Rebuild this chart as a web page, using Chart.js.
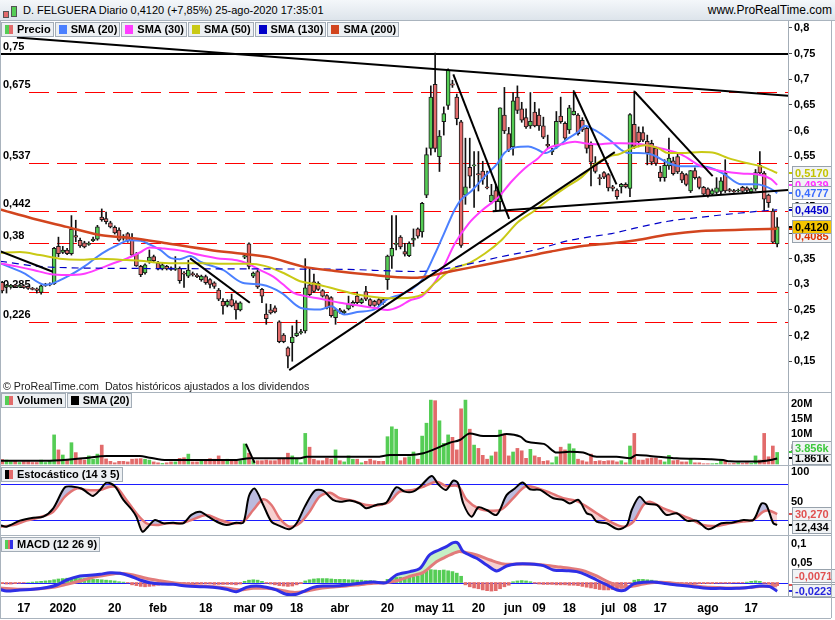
<!DOCTYPE html>
<html lang="es">
<head>
<meta charset="UTF-8">
<title>D. FELGUERA Diario</title>
<script src="https://cdn.jsdelivr.net/npm/chart.js@4.4.0/dist/chart.umd.min.js"></script>
<style>
  body { margin: 0; background: #fff; font-family: "Liberation Sans", Arial, sans-serif; }
  #wrap { position: relative; width: 835px; height: 620px; overflow: hidden; }
  canvas { position: absolute; left: 0; }
  #hdr { position: absolute; left: 0; top: 0; width: 835px; height: 21px; background: linear-gradient(#f4f7fa, #dde4eb); border-bottom: 1px solid #aab4be; box-sizing: border-box; line-height: 20px; }
  #hdr .t { position: absolute; left: 23px; top: 0; font-size: 11px; }
  #hdr .r { position: absolute; right: 3px; top: 0; font-size: 12px; }
  .ic { position: absolute; border: 1px solid #555; box-sizing: border-box; }
  .legend { position: absolute; left: 1px; display: flex; gap: 1px; z-index: 2; }
  .legend div { height: 13px; border: 1px solid #a3adb7; background: #edf0f3; font-weight: bold; font-size: 11px; line-height: 13px; padding: 0 2px 0 3px; white-space: nowrap; }
  .legend i { display: inline-block; width: 8px; height: 9px; vertical-align: -1px; margin-right: 4px; }
  .sep { position: absolute; left: 0; width: 831px; height: 1px; background: #a9b3bd; z-index: 2; }
  .vline { position: absolute; top: 20px; width: 1px; height: 598px; background: #a9b3bd; z-index: 2; }
  #copy { position: absolute; left: 3px; top: 380px; font-size: 10.7px; color: #222; z-index: 2; }
</style>
</head>
<body>
<div id="wrap">
  <div id="hdr">
    <div class="ic" style="left:3px;top:11px;width:6px;height:7px;background:#e26b6b"></div>
    <div class="ic" style="left:11px;top:6px;width:6px;height:11px;background:#55cd55"></div>
    <span class="t">D. FELGUERA Diario 0,4120 (+7,85%) 25-ago-2020 17:35:01</span>
    <span class="r">www.ProRealTime.com</span>
  </div>

  <canvas id="cMain" width="835" height="371" style="top:21px"></canvas>
  <canvas id="cVol" width="835" height="72" style="top:393px"></canvas>
  <canvas id="cSto" width="835" height="69" style="top:466px"></canvas>
  <canvas id="cMacd" width="835" height="84" style="top:536px"></canvas>

  <div class="legend" style="top:22px">
    <div><i style="background:linear-gradient(90deg,#55cd55 50%,#e26b6b 50%)"></i>Precio</div>
    <div><i style="background:#4b80ff"></i>SMA (20)</div>
    <div><i style="background:#ff3dff"></i>SMA (30)</div>
    <div><i style="background:#c9c915"></i>SMA (50)</div>
    <div><i style="background:#0000c8"></i>SMA (130)</div>
    <div><i style="background:#d2451e"></i>SMA (200)</div>
  </div>
  <div class="legend" style="top:393px">
    <div><i style="background:linear-gradient(90deg,#55cd55 50%,#e26b6b 50%)"></i>Volumen</div>
    <div><i style="background:#000"></i>SMA (20)</div>
  </div>
  <div class="legend" style="top:467px">
    <div><i style="background:linear-gradient(90deg,#000 50%,#e26b6b 50%)"></i>Estocástico (14 3 5)</div>
  </div>
  <div class="legend" style="top:537px">
    <div><i style="background:linear-gradient(90deg,#55cd55 33%,#e26b6b 33%,#e26b6b 66%,#2f2fe6 66%)"></i>MACD (12 26 9)</div>
  </div>

  <div id="copy">© ProRealTime.com&nbsp; Datos históricos ajustados a los dividendos</div>
  <div class="sep" style="top:392px"></div>
  <div class="sep" style="top:465px"></div>
  <div class="sep" style="top:535px"></div>
  <div class="sep" style="top:596px"></div>
  <div class="sep" style="top:618px"></div>
  <div class="vline" style="left:0"></div>
  <div class="vline" style="left:831px"></div>
</div>

<script>
// daily candles, 10 dic 2019 .. 25 ago 2020 (index = trading day)
const opens = [
  .304,.296,.295,.298,.296,.297,.296,.292,.291,.284,
  .298,.299,.301,.374,.362,.367,.360,.395,.386,.381,
  .378,.385,.388,.431,.428,.420,.411,.406,.394,.399,
  .386,.359,.335,.322,.345,.354,.341,.330,.335,.332,
  .330,.331,.322,.316,.321,.318,.309,.315,.309,.303,
  .289,.267,.259,.270,.264,.250,.353,.379,.316,.325,
  .290,.242,.250,.254,.227,.201,.176,.186,.200,.205,
  .209,.299,.305,.302,.288,.278,.274,.235,.250,.244,
  .252,.258,.277,.264,.286,.270,.267,.270,.270,.309,
  .355,.378,.392,.364,.356,.386,.408,.402,.474,.565,
  .690,.549,.617,.649,.690,.665,.617,.474,.528,.531,
  .515,.521,.490,.461,.483,.461,.630,.594,.568,.665,
  .642,.625,.609,.636,.630,.609,.573,.558,.568,.628,
  .614,.601,.631,.630,.620,.604,.572,.536,.508,.518,
  .514,.490,.484,.490,.495,.487,.612,.597,.596,.579,
  .575,.565,.519,.508,.531,.541,.549,.517,.514,.482,
  .522,.508,.489,.486,.476,.479,.481,.517,.484,.482,
  .483,.489,.488,.480,.486,.532,.517,.474,.443,.379
];
const highs = [
  .306,.300,.300,.300,.299,.299,.297,.294,.293,.299,
  .302,.303,.372,.392,.374,.370,.434,.425,.390,.384,
  .383,.392,.415,.447,.441,.423,.414,.410,.397,.401,
  .399,.362,.337,.340,.367,.357,.345,.341,.337,.334,
  .354,.334,.325,.347,.324,.321,.318,.318,.311,.305,
  .292,.272,.270,.281,.268,.266,.358,.381,.324,.328,
  .292,.262,.261,.258,.229,.204,.178,.219,.230,.212,
  .350,.331,.320,.305,.290,.280,.276,.252,.253,.250,
  .277,.268,.285,.273,.296,.272,.269,.272,.272,.357,
  .434,.434,.395,.380,.383,.408,.410,.460,.566,.687,
  .751,.600,.646,.720,.698,.671,.620,.585,.585,.559,
  .559,.540,.521,.495,.495,.644,.684,.606,.674,.687,
  .655,.642,.674,.655,.642,.626,.591,.565,.637,.665,
  .617,.649,.678,.633,.625,.607,.578,.549,.514,.520,
  .516,.493,.486,.497,.498,.633,.677,.607,.607,.591,
  .581,.568,.530,.543,.585,.548,.555,.520,.516,.522,
  .527,.510,.491,.488,.486,.508,.508,.543,.487,.485,
  .486,.491,.490,.488,.524,.559,.520,.476,.447,.430
];
const lows = [
  .283,.283,.293,.294,.294,.292,.290,.289,.283,.281,
  .296,.297,.300,.354,.360,.358,.357,.383,.372,.371,
  .376,.383,.386,.423,.418,.410,.398,.384,.386,.382,
  .354,.335,.315,.320,.341,.344,.328,.328,.328,.327,
  .327,.302,.294,.313,.316,.313,.306,.300,.293,.292,
  .268,.242,.256,.256,.232,.248,.350,.330,.313,.292,
  .264,.222,.242,.244,.186,.186,.137,.150,.198,.203,
  .205,.278,.284,.288,.275,.252,.236,.222,.243,.242,
  .250,.256,.262,.262,.268,.256,.257,.258,.261,.290,
  .331,.367,.369,.355,.354,.374,.390,.392,.469,.552,
  .558,.520,.591,.641,.684,.611,.372,.456,.488,.450,
  .482,.495,.486,.457,.444,.444,.594,.559,.552,.633,
  .616,.604,.604,.607,.600,.584,.565,.553,.565,.614,
  .582,.594,.630,.591,.598,.556,.492,.517,.494,.506,
  .482,.482,.466,.478,.488,.471,.565,.568,.578,.533,
  .533,.532,.501,.501,.524,.513,.516,.498,.492,.479,
  .505,.486,.473,.470,.474,.476,.476,.479,.480,.479,
  .480,.479,.480,.478,.483,.514,.444,.450,.380,.373
];
const closes = [
  .287,.297,.298,.296,.297,.294,.292,.290,.288,.297,
  .300,.301,.370,.360,.367,.360,.407,.392,.375,.373,
  .380,.388,.412,.426,.422,.412,.400,.386,.390,.385,
  .357,.336,.319,.338,.353,.346,.330,.338,.330,.329,
  .331,.307,.320,.328,.319,.315,.316,.303,.300,.296,
  .271,.258,.267,.258,.250,.264,.356,.335,.322,.295,
  .277,.233,.244,.246,.188,.188,.160,.197,.205,.208,
  .293,.280,.286,.290,.277,.254,.239,.250,.246,.248,
  .261,.265,.264,.270,.271,.259,.259,.261,.264,.355,
  .370,.380,.373,.359,.380,.390,.394,.458,.553,.665,
  .565,.589,.633,.718,.689,.623,.376,.490,.511,.533,
  .514,.505,.488,.474,.461,.644,.599,.562,.658,.639,
  .620,.607,.618,.609,.609,.587,.570,.562,.618,.617,
  .585,.644,.638,.594,.601,.565,.538,.520,.506,.509,
  .488,.487,.471,.495,.490,.631,.569,.578,.581,.556,
  .538,.536,.508,.532,.546,.516,.519,.503,.495,.522,
  .508,.489,.476,.473,.483,.488,.502,.482,.483,.481,
  .483,.481,.483,.486,.518,.517,.466,.459,.382,.412
];
// volume, millions of shares
const volumes = [
  1.5,1.3,0.8,1.1,0.5,0.8,0.8,0.5,0.5,1.3,
  0.5,1.1,9.7,4.7,3.0,1.3,7.1,3.8,1.9,1.3,
  2.7,1.6,3.3,6.3,1.7,0.9,0.4,0.9,0.9,0.7,
  1.6,1.7,1.8,1.6,1.3,0.7,0.4,0.2,0.4,0.7,
  0.7,1.9,2.1,3.3,0.7,0.7,0.9,1.1,1.8,1.6,
  2.7,1.3,1.6,0.9,0.9,1.1,6.7,3.6,1.1,1.1,
  1.1,1.3,1.1,1.1,1.9,1.9,3.6,2.7,1.6,0.4,
  10.2,5.6,1.6,1.1,1.1,1.9,1.6,4.7,1.1,0.7,
  2.7,1.6,1.6,0.4,0.9,1.6,1.1,0.9,0.9,9.1,
  12.4,11.6,1.1,2.1,2.4,4.0,1.6,9.3,13.6,21.3,
  21.1,14.4,6.9,9.7,8.9,4.7,18.4,21.3,11.6,6.3,
  5.2,2.9,1.6,2.7,4.0,11.3,10.0,2.7,4.0,5.2,
  4.4,1.9,4.9,2.7,2.2,0.9,1.1,0.4,2.4,5.6,
  4.7,6.7,5.1,1.6,1.1,0.7,3.3,0.9,1.1,0.9,
  1.1,1.1,0.7,1.1,0.4,6.0,10.2,1.3,1.3,1.8,
  2.0,2.0,1.3,0.7,2.9,1.1,1.3,0.7,0.7,1.6,
  0.4,0.4,0.1,0.1,0.1,0.2,1.3,1.1,0.1,0.2,
  0.4,0.2,0.4,0.2,2.7,1.3,10.2,2.4,6.0,3.856
];
const macdHist = [
  -0.003,-0.004,-0.004,-0.003,-0.002,-0.001,0,0.001,0.002,0.003,
  0.004,0.005,0.007,0.009,0.010,0.011,0.011,0.011,0.010,0.010,
  0.009,0.008,0.008,0.007,0.006,0.005,0.004,0.002,0.001,-0.001,
  -0.006,-0.008,-0.010,-0.011,-0.010,-0.009,-0.007,-0.006,-0.005,-0.005,
  -0.005,-0.005,-0.004,-0.004,-0.004,-0.004,-0.004,-0.004,-0.004,-0.005,
  -0.005,-0.005,-0.005,-0.005,-0.006,-0.004,0.003,0.006,0.007,0.006,
  0.003,-0.002,-0.004,-0.006,-0.008,-0.009,-0.010,-0.009,-0.006,-0.003,
  0.004,0.007,0.009,0.010,0.010,0.010,0.009,0.008,0.008,0.008,
  0.007,0.007,0.006,0.006,0.005,0.005,0.004,0.003,0.003,0.008,
  0.011,0.013,0.013,0.013,0.014,0.015,0.017,0.024,0.030,0.033,
  0.032,0.031,0.032,0.030,0.028,0.024,0.016,-0.006,-0.011,-0.014,
  -0.016,-0.019,-0.021,-0.022,-0.021,-0.016,-0.011,-0.007,0.002,0.004,
  0.005,0.004,0.002,-0.002,-0.004,-0.005,-0.005,-0.005,-0.006,-0.006,
  -0.006,-0.007,-0.007,-0.008,-0.010,-0.012,-0.014,-0.016,-0.018,-0.019,
  -0.019,-0.018,-0.017,-0.015,-0.010,-0.002,0.006,0.008,0.008,0.007,
  0.006,0.004,0.002,-0.002,-0.003,-0.003,-0.004,-0.004,-0.004,-0.004,
  -0.004,-0.003,-0.003,-0.003,-0.003,-0.002,-0.002,-0.002,-0.002,-0.001,
  -0.001,-0.001,0.001,0.003,0.004,0.003,-0.002,-0.004,-0.006,-0.008
];

// indicator lines: [day index, value]
const sma20 = [[-0.5,.341],[5,.322],[10,.299],[15,.315],[19,.335],[23,.360],[26.5,.376],[29.5,.386],[32,.385],[34,.378],[36.5,.367],[39,.351],[41,.349],[43.4,.355],[46,.343],[51,.328],[55.5,.303],[60,.299],[64.6,.283],[69,.254],[73.5,.251],[76,.257],[79,.241],[82,.246],[86,.251],[89,.271],[92,.280],[94.5,.290],[97,.309],[100,.360],[102,.398],[104.6,.447],[106,.465],[108.5,.483],[111.5,.511],[114.5,.537],[116,.556],[118.5,.567],[121.5,.569],[123.8,.562],[125.4,.556],[127.7,.565],[130.8,.585],[133,.597],[134.5,.609],[136.8,.601],[139.2,.588],[140.8,.578],[143,.562],[144.6,.556],[147,.556],[150,.553],[153.8,.537],[156.9,.530],[161.5,.530],[164.6,.524],[166.9,.514],[170.7,.495],[173.8,.495],[176,.492],[178.4,.482],[179,.4777]];
const sma30 = [[-0.5,.341],[3.3,.335],[7.2,.328],[11,.320],[14.9,.318],[18.7,.320],[22.6,.331],[25.7,.341],[28.7,.350],[31.8,.362],[34.1,.372],[37.2,.370],[41.8,.365],[45.7,.357],[49.5,.351],[54.2,.347],[56.5,.341],[59.5,.328],[62.6,.315],[65,.299],[67.2,.284],[70,.277],[73.5,.272],[78,.264],[82,.259],[86,.254],[89,.250],[92,.258],[94,.268],[97,.277],[100,.305],[102,.335],[104.6,.380],[107.7,.418],[110.8,.444],[114.5,.469],[117.7,.501],[120.8,.527],[123.8,.546],[126.1,.565],[129.2,.573],[132.3,.578],[134.5,.575],[137.6,.573],[140.8,.575],[143,.575],[147.6,.573],[152.2,.565],[156.9,.553],[161.5,.530],[166.1,.521],[170.7,.516],[174.6,.514],[177.6,.505],[179,.4939]];
const sma50 = [[-0.5,.361],[4.1,.363],[8.7,.357],[13.3,.350],[18,.348],[22.6,.350],[27.2,.348],[31.8,.346],[36.5,.342],[41,.341],[46,.341],[51,.340],[57,.340],[60.6,.336],[65,.322],[68.8,.306],[72.6,.300],[77.3,.290],[81.9,.280],[87.3,.274],[92,.273],[97,.280],[100,.303],[104,.330],[108,.342],[111.5,.360],[115.3,.386],[119.1,.421],[123,.444],[126.8,.469],[130.7,.492],[133.7,.508],[136.8,.533],[140.8,.551],[142.3,.553],[145.4,.565],[148.5,.571],[151.6,.565],[153.8,.556],[156.9,.556],[161.5,.558],[164.6,.556],[167.7,.546],[171.6,.537],[175.4,.530],[179,.517]];
const sma130 = [[-0.5,.345],[10,.334],[30,.331],[60,.330],[80,.329],[90,.326],[95,.325],[100,.327],[104,.333],[108,.340],[115.3,.354],[123,.367],[130.7,.385],[135.3,.392],[140.8,.399],[146.4,.410],[153.8,.423],[161.5,.431],[169.2,.438],[176.9,.444],[179,.445]];
const sma200 = [[-0.5,.446],[7.2,.428],[14.9,.412],[22.6,.396],[30.3,.390],[38,.380],[48,.367],[53.9,.361],[61.6,.353],[69.2,.335],[76.9,.326],[84.6,.319],[94.5,.313],[97,.314],[104,.326],[111.5,.338],[119.1,.351],[126.8,.364],[134.5,.375],[140.8,.380],[146.4,.386],[153.8,.397],[161.5,.404],[169.2,.406],[176.9,.408],[179,.4085]];
const volSma = [[-0.5,1.1],[11,1.1],[18.7,1.9],[24.1,2.7],[31.8,2.7],[34.1,2.1],[38,1.3],[53.4,1.3],[57.2,1.9],[68.8,1.9],[70.3,2.4],[86.5,2.4],[89.6,3.0],[94.2,3.0],[97.3,3.6],[100.3,5.2],[103.4,7.1],[105.7,8.0],[108,10.2],[111.1,9.3],[114.2,9.3],[116.5,10.0],[119.7,9.1],[121.3,7.4],[125.1,6.7],[128.1,3.8],[131.1,4.1],[134.2,3.8],[137.3,2.4],[141.9,2.4],[145,1.9],[146.5,3.0],[149.6,2.7],[155.8,1.9],[163.5,1.6],[166.5,1.3],[168.1,0.9],[174.3,0.8],[177.4,1.3],[179,1.861]];
const stochK = [[-0.5,12],[1,9.4],[4.1,19.4],[7.2,24.4],[9.5,26],[11.8,40],[14.5,75],[16.4,76],[18.3,73],[19.9,65],[21,60.6],[22.6,70.6],[24.1,82.8],[26,77],[28,54],[29.9,38],[31,26],[32.4,1],[33.7,9.4],[35.3,20.6],[37.2,15],[39.5,16],[41.8,15],[43.7,29],[45.7,34.4],[47.6,26],[49.5,17.8],[51.8,12.2],[54.1,16],[55.7,16],[57,60.6],[58.3,73],[60.3,45.6],[62.2,17.8],[64.1,10.6],[66.3,5],[68,15],[69.9,42.8],[72.2,69.4],[74.1,69.4],[76.4,54],[78,51],[80.3,52.8],[82.6,48],[84.1,40],[86.4,45.6],[88.7,49.4],[91,75],[93,67.8],[94.9,67.8],[96.5,76],[99.2,94],[100.7,80],[102.5,70.6],[104.2,86],[105.3,81.7],[106.5,48],[108.4,26],[110,41.7],[111.9,37.2],[114.2,29],[116.5,62],[118.4,73],[120.2,82.8],[121.9,71.7],[124.2,70.6],[127.3,56.7],[129.6,53.9],[131.1,48],[133.1,53.9],[135,31.7],[136.1,29],[137.3,17.8],[139.6,15],[142.3,5],[144.3,12.2],[145.4,37.2],[147.2,59.4],[148.8,48],[151.2,45.6],[153.4,29],[155.8,31.7],[158.1,19.4],[160.4,19.4],[163.1,5],[166.1,15],[168.5,16],[171.2,20.6],[173.5,20.6],[175.4,48],[176.5,45.6],[178.1,15],[179,12.434]];
const stochD = [[-0.5,9.4],[2.6,12],[5.6,19.4],[8.7,25],[11.8,34.4],[14.5,59.4],[17.2,73],[19.5,70.6],[22.6,70.6],[24.9,76],[26.4,75],[28.7,54],[31,31.7],[33.3,15],[35.6,12],[38,15],[41,15],[43.3,19.4],[47.2,29],[50.3,20.6],[53.3,15],[55.7,17.8],[58,37.2],[60.3,55],[62.2,45.6],[64.1,23],[66.4,9.4],[68.7,15],[71,34.4],[73.3,59.4],[75.7,66],[78,56.7],[81,52.8],[84.1,45.6],[87.2,45.6],[89.5,51],[91.8,67.8],[94.9,70.6],[97.3,76],[100.3,84.4],[102.6,77],[105.3,77],[107.3,54],[110,40],[112.7,36],[115.3,38],[118,56.7],[120.8,76],[123.4,74],[126.5,66],[129.6,56.7],[132.7,52],[135,42.8],[137.3,31.7],[140.4,17.8],[143.5,9.4],[145.8,17.8],[148.1,45.6],[149.6,51],[152.7,40],[155.8,31.7],[158.8,23],[161.9,12.2],[165,10.6],[168.1,15],[171.2,17.8],[173.5,20.6],[175.8,34.4],[177.3,36],[179,30.27]];
const macdLine = [[-0.5,-0.0175],[1,-0.0218],[4.1,-0.019],[7.2,-0.0175],[10.3,-0.013],[12.6,-0.0064],[14.9,0.0064],[18,0.0167],[20.3,0.0184],[22.6,0.021],[24.9,0.025],[27.2,0.0235],[29.5,0.0167],[31.8,0.0064],[34.1,-0.0004],[37.2,-0.0038],[39.5,-0.0047],[42.6,-0.009],[45.7,-0.0107],[48.7,-0.0124],[51.8,-0.0175],[54.1,-0.0235],[56.4,-0.0124],[58.7,-0.009],[61,-0.0124],[63.3,-0.019],[65.6,-0.030],[68,-0.030],[69.5,-0.0235],[71.8,-0.0124],[74.1,-0.009],[76.4,-0.009],[79.5,-0.0064],[82.6,-0.002],[85.7,0.0013],[88.7,-0.0004],[91,0.0192],[94.2,0.0278],[96.5,0.0363],[98.7,0.0705],[100.9,0.0833],[102.6,0.0919],[104.2,0.1021],[105.3,0.1004],[106.5,0.079],[109.6,0.062],[111.9,0.0449],[114.2,0.0295],[116.5,0.0423],[118.8,0.0474],[121.9,0.0474],[125,0.0432],[127.3,0.032],[130.4,0.0303],[132.7,0.0278],[135,0.0192],[137.3,0.0064],[139.7,-0.0064],[142,-0.0192],[143.9,-0.0192],[145.8,-0.0038],[148.1,0.0004],[150.4,0.0013],[152.7,-0.002],[155.8,-0.0064],[159.6,-0.0107],[162.7,-0.015],[165.8,-0.015],[169.6,-0.015],[172.7,-0.0124],[175,-0.009],[177.3,-0.0107],[179,-0.0223]];
const macdSignal = [[-0.5,-0.014],[4.1,-0.0175],[8.7,-0.016],[11.8,-0.0124],[14.9,-0.0047],[18,0.0038],[21,0.0132],[24.1,0.0192],[27.2,0.0235],[30.3,0.0192],[33.3,0.0107],[36.4,0.0047],[39.5,-0.0004],[42.6,-0.0047],[45.7,-0.009],[48.7,-0.0107],[51.8,-0.014],[54.9,-0.019],[58,-0.015],[61,-0.015],[64.1,-0.019],[67.2,-0.0252],[69.5,-0.0235],[72.6,-0.0167],[75.7,-0.0124],[79.5,-0.009],[82.6,-0.0055],[85.7,-0.002],[88.7,-0.0004],[91.8,0.0064],[94.2,0.016],[97.3,0.026],[100.3,0.0534],[102.6,0.0662],[105.3,0.079],[107.3,0.0765],[109.6,0.0705],[112.7,0.0577],[115.8,0.0474],[118.8,0.0474],[121.9,0.0474],[125,0.0449],[128.1,0.0406],[131.1,0.0363],[134.2,0.0303],[137.3,0.0167],[140.4,-0.0004],[143.5,-0.0107],[145.8,-0.009],[148.1,-0.0038],[151.2,0.0004],[154.3,-0.0004],[157.3,-0.0047],[160.4,-0.009],[163.4,-0.0124],[167.3,-0.014],[171.2,-0.014],[174.3,-0.0107],[177.3,-0.009],[179,-0.0071]];

// hand-drawn lines on the chart: [[day, price], [day, price]]
const trendLines = [
  [[3.4,.7814],[181.5,.6679]],
  [[-0.5,.3648],[11.7,.3244]],
  [[43.4,.3506],[57.2,.2641]],
  [[66.3,.1327],[141.5,.5577]],
  [[113.3,.4423],[181.5,.484]],
  [[104.2,.7096],[117.1,.4275]],
  [[132.1,.6756],[141.9,.4949]],
  [[146.1,.6756],[164.1,.511]]
];
const volTrend = [[56.3,6.7],[58.3,0.4]];
const topLevel = 0.75;
const levels = [0.675, 0.537, 0.442, 0.38, 0.285, 0.226];

const priceTicks = [0.15,0.2,0.25,0.3,0.35,0.4,0.45,0.5,0.55,0.6,0.65,0.7,0.75,0.8];
const volTicks = [5,10,15,20];
const stochTicks = [50,100];
const macdTicks = [0.05,0.1];
const xTickIdx = [5,14,26,36,47,56,61,68,78,89,98,103,110,118,124,131,140,145,152,163,173];
const xTickText = ['17','2020','20','feb','18','mar','09','18','abr','20','may','11','20','jun','09','18','jul','08','17','ago','17'];

// last values shown in the right-hand boxes
const priceBoxes = [
  { v: 0.5170, c: '#c4c400' },
  { v: 0.4939, c: '#ff33ff' },
  { v: 0.4777, c: '#3a6cff' },
  { v: 0.4450, c: '#0000cc' },
  { v: 0.4085, c: '#dd3300', dy: 7 },
  { v: 0.4120, c: '#000', bg: '#f5c400' }
];
const volBoxes = [
  { v: 1.861, text: '1.861k', c: '#000' },
  { v: 3.856, text: '3.856k', c: '#3cc83c', dy: -4 }
];
const stochBoxes = [
  { v: 30.270, text: '30,270', c: '#e05050' },
  { v: 12.434, text: '12,434', c: '#000', dy: 2 }
];
const macdBoxes = [
  { v: -0.0071, text: '-0,0071', c: '#e05050', dy: -9 },
  { v: -0.0223, text: '-0,0223', c: '#2424dd' }
];

const FONT = '"Liberation Sans", Arial, sans-serif';
const UP = '#55cd55', DOWN = '#e26b6b';
const X_MIN = -0.5, X_MAX = 181.5;

Chart.defaults.font.family = FONT;
Chart.defaults.animation = false;
Chart.defaults.events = [];
Chart.defaults.plugins.legend.display = false;
Chart.defaults.plugins.tooltip.enabled = false;
Chart.defaults.elements.point.radius = 0;

const pts = a => a.map(([x, y]) => ({ x, y }));
const comma = v => String(v).replace('.', ',');

function line(data, color, width, extra) {
  return Object.assign({ type: 'line', data: pts(data), borderColor: color, borderWidth: width,
    fill: false, cubicInterpolationMode: 'monotone' }, extra);
}

const xAxis = { type: 'linear', min: X_MIN, max: X_MAX, offset: false, display: false, bounds: 'data' };

function yAxis(min, max, ticks, fmt, tickLen) {
  return {
    position: 'right', min, max, bounds: 'data',
    afterBuildTicks: s => { s.ticks = ticks.map(value => ({ value })); },
    afterFit: s => { s.width = 47; s.paddingTop = 0; s.paddingBottom = 0; },
    grid: { display: tickLen > 0, drawOnChartArea: false, tickLength: tickLen, color: '#4a4a4a' },
    border: { display: true, color: '#a3adb7' },
    ticks: { padding: tickLen ? 2 : 3, color: '#000', font: { size: 11, weight: 'bold' }, callback: fmt }
  };
}

function baseOptions(y, bottom) {
  return { responsive: false, layout: { padding: { bottom: bottom || 0 } }, scales: { x: xAxis, y },
    plugins: { filler: { drawTime: 'beforeDatasetsDraw' } } };
}

function valueBoxes(items) {
  return { id: 'valueBoxes', afterDraw(chart) {
    const { ctx, chartArea: a, scales: { y } } = chart;
    ctx.save();
    ctx.font = 'bold 11px ' + FONT;
    ctx.textBaseline = 'middle';
    items.forEach(b => {
      const text = b.text || b.v.toFixed(4).replace('.', ',');
      const py = Math.round(y.getPixelForValue(b.v));
      const cy = py + (b.dy || 0);
      const w = Math.max(37, Math.ceil(ctx.measureText(text).width) + 6);
      ctx.fillStyle = b.c;
      ctx.fillRect(a.right + 1, py - 1, 3, 2);
      ctx.fillStyle = b.bg || '#f1f3f5';
      ctx.fillRect(a.right + 4, cy - 7, w, 14);
      ctx.strokeStyle = '#98a2ac';
      ctx.lineWidth = 1;
      ctx.strokeRect(a.right + 4.5, cy - 6.5, w - 1, 13);
      ctx.fillStyle = b.bg ? '#000' : b.c;
      ctx.fillText(text, a.right + 7, cy + 1);
    });
    ctx.restore();
  }};
}

function guideLines(values, color) {
  return { id: 'guides', beforeDatasetsDraw(chart) {
    const { ctx, chartArea: a, scales: { y } } = chart;
    ctx.save();
    ctx.strokeStyle = color;
    ctx.lineWidth = 1;
    values.forEach(v => {
      const py = Math.round(y.getPixelForValue(v)) + 0.5;
      ctx.beginPath(); ctx.moveTo(a.left, py); ctx.lineTo(a.right, py); ctx.stroke();
    });
    ctx.restore();
  }};
}

// date labels under the last panel, placed through the shared x scale
const dateLabels = { id: 'dates', afterDraw(chart) {
  const { ctx, chartArea: a, scales: { x } } = chart;
  ctx.save();
  ctx.font = 'bold 12px ' + FONT;
  ctx.fillStyle = '#000';
  ctx.textAlign = 'center';
  ctx.textBaseline = 'middle';
  xTickIdx.forEach((v, k) => ctx.fillText(xTickText[k], x.getPixelForValue(v), a.bottom + 13));
  ctx.restore();
}};

// red dashed support / resistance levels with their labels, and the 0,75 line
const levelLines = { id: 'levels', beforeDatasetsDraw(chart) {
  const { ctx, chartArea: a, scales: { y } } = chart;
  ctx.save();
  ctx.strokeStyle = '#ff0000';
  ctx.lineWidth = 1;
  ctx.setLineDash([20, 8]);
  levels.forEach(v => {
    const py = Math.round(y.getPixelForValue(v)) + 0.5;
    ctx.beginPath(); ctx.moveTo(a.left + 29, py); ctx.lineTo(a.right, py); ctx.stroke();
  });
  ctx.setLineDash([]);
  const ty = Math.round(y.getPixelForValue(topLevel));
  ctx.fillStyle = '#000';
  ctx.fillRect(a.left, ty - 1, a.right - a.left, 2);
  ctx.font = 'bold 11px ' + FONT;
  levels.concat([topLevel]).forEach(v => ctx.fillText(comma(v), a.left + 3, y.getPixelForValue(v) - 4));
  ctx.restore();
}};

const candleColor = closes.map((c, i) => c >= opens[i] ? UP : DOWN);
const wicks = highs.map((h, i) => ({ x: i, y: [lows[i], h] }));
const bodies = opens.map((o, i) => {
  const lo = Math.min(o, closes[i]), hi = Math.max(o, closes[i]);
  return { x: i, y: hi - lo < 0.0015 ? [lo - 0.0008, hi + 0.0008] : [lo, hi] };
});

new Chart(document.getElementById('cMain'), {
  type: 'line',
  data: { datasets: [
    ...trendLines.map(t => line(t, '#000', 2, { order: 0, cubicInterpolationMode: 'default' })),
    line(sma200, '#d2451e', 2.5, { order: 1 }),
    line(sma130, '#0000c8', 1.2, { order: 1, borderDash: [7, 5] }),
    line(sma50, '#c9c915', 2, { order: 1 }),
    line(sma30, '#ff3dff', 2, { order: 1 }),
    line(sma20, '#4b80ff', 2, { order: 1 }),
    { type: 'bar', data: bodies, backgroundColor: candleColor, borderColor: '#1a1a1a', borderWidth: 1,
      borderSkipped: false, barThickness: 4, grouped: false, order: 5 },
    { type: 'bar', data: wicks, backgroundColor: '#111', barThickness: 1, grouped: false, order: 6 }
  ]},
  options: baseOptions(yAxis(0.09, 0.8135, priceTicks, comma, 4)),
  plugins: [levelLines, valueBoxes(priceBoxes)]
});

new Chart(document.getElementById('cVol'), {
  type: 'line',
  data: { datasets: [
    line(volSma, '#000', 2, { order: 0 }),
    line(volTrend, '#000', 2, { order: 0, cubicInterpolationMode: 'default' }),
    { type: 'bar', data: volumes.map((v, i) => ({ x: i, y: v })), backgroundColor: candleColor,
      barThickness: 3, grouped: false, order: 5 }
  ]},
  options: baseOptions(yAxis(-1 / 3, 23.667, volTicks, v => v + 'M', 0)),
  plugins: [valueBoxes(volBoxes)]
});

new Chart(document.getElementById('cSto'), {
  type: 'line',
  data: { datasets: [
    line(stochK, '#000', 2, { order: 0, tension: 0.3, cubicInterpolationMode: 'default',
      fill: { target: 1, above: 'rgba(120,120,190,0.5)', below: 'rgba(238,150,150,0.45)' } }),
    line(stochD, '#e27474', 2.5, { order: 1, tension: 0.3, cubicInterpolationMode: 'default' })
  ]},
  options: baseOptions(yAxis(-4.5, 110.5, stochTicks, v => String(v), 0)),
  plugins: [guideLines([20, 80], '#1c1cff'), valueBoxes(stochBoxes)]
});

new Chart(document.getElementById('cMacd'), {
  type: 'line',
  data: { datasets: [
    { type: 'bar', data: macdHist.map((v, i) => ({ x: i, y: v })),
      backgroundColor: macdHist.map(v => v >= 0 ? UP : DOWN), barThickness: 3, grouped: false, order: 3 },
    line(macdLine, '#2f2fe6', 3, { order: 1, tension: 0.3, cubicInterpolationMode: 'default',
      fill: { target: 2, above: 'rgba(140,225,140,0.5)', below: 'rgba(238,150,150,0.45)' } }),
    line(macdSignal, '#e27b7b', 3, { order: 2, tension: 0.3, cubicInterpolationMode: 'default' })
  ]},
  options: baseOptions(yAxis(-0.0346, 0.1192, macdTicks, comma, 0), 24),
  plugins: [guideLines([0], '#1c1cff'), valueBoxes(macdBoxes), dateLabels]
});
</script>
</body>
</html>
